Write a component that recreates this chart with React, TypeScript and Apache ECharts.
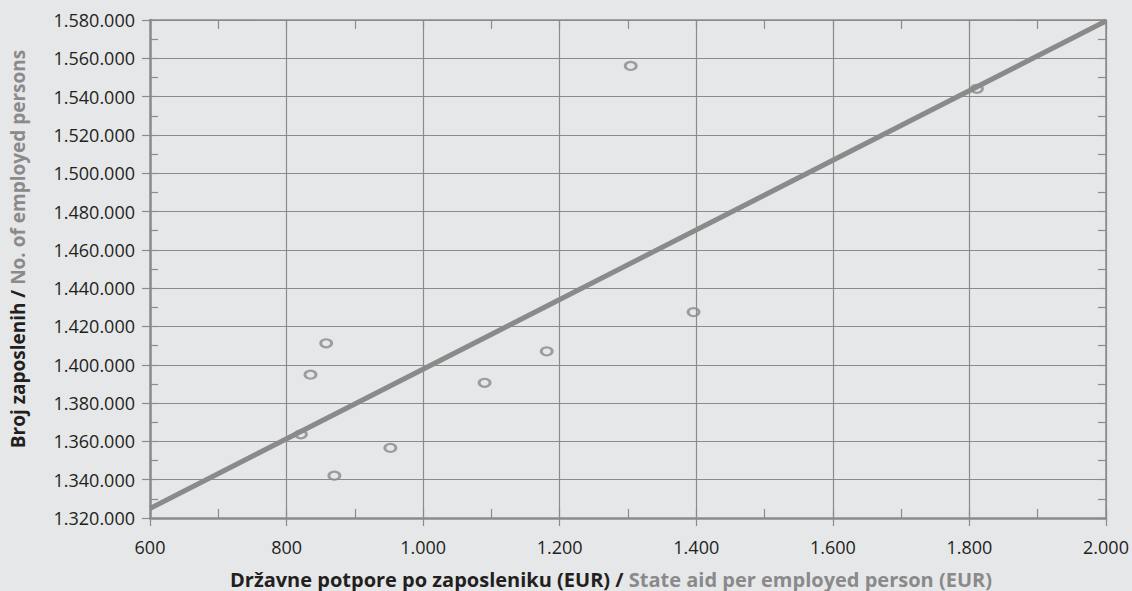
import React, { useEffect, useRef } from "react";
import * as echarts from "echarts";

const stateAid = [1304, 858, 835, 821, 952, 870, 1090, 1181, 1396, 1811];
const employed = [1556000, 1411200, 1394800, 1363700, 1356600, 1342100, 1390600, 1407000, 1427500, 1544100];
const trendX = [600, 2000];
const trendY = [1325000, 1579500];

const xMin = 600, xMax = 2000, xStep = 200;
const yMin = 1320000, yMax = 1580000, yStep = 20000;

const xTitleHr = "Državne potpore po zaposleniku (EUR) / ";
const xTitleEn = "State aid per employed person (EUR)";
const yTitleHr = "Broj zaposlenih / ";
const yTitleEn = "No. of employed persons";

const BG = "#e6e7e9";
const GRID = "#8b8b8b";
const DARK = "#231f20";
const LIGHT = "#8a8a8a";
const FONT = "'Open Sans', sans-serif";

function fmt(v: number): string {
  const s = Math.round(v).toString();
  return s.replace(/\B(?=(\d{3})+(?!\d))/g, ".");
}

export default function App() {
  const ref = useRef<HTMLDivElement>(null);
  useEffect(() => {
    if (!ref.current) return;
    const chart = echarts.init(ref.current, undefined, { renderer: "svg" });
    const hidden = { show: false };
    chart.setOption({
      animation: false,
      backgroundColor: BG,
      grid: { left: 150, top: 20, right: 26, bottom: 73, containLabel: false },
      xAxis: [
        {
          type: "value", position: "bottom", min: xMin, max: xMax, interval: xStep,
          axisLine: { show: true, onZero: false, lineStyle: { color: GRID, width: 2.5 } },
          axisTick: { show: true, inside: false, length: 8, lineStyle: { color: GRID, width: 1.2 } },
          axisLabel: { color: DARK, fontSize: 18, fontFamily: FONT, margin: 20, formatter: (v: number) => fmt(v) },
          splitLine: { show: true, lineStyle: { color: GRID, width: 1.2 } },
        },
        {
          type: "value", position: "bottom", min: xMin, max: xMax, interval: xStep / 2,
          axisLine: { show: false, onZero: false },
          axisTick: { show: true, inside: true, length: 9, lineStyle: { color: GRID, width: 1.2 } },
          axisLabel: hidden, splitLine: hidden,
        },
        {
          type: "value", position: "top", min: xMin, max: xMax, interval: xStep / 2,
          axisLine: { show: true, onZero: false, lineStyle: { color: GRID, width: 1.5 } },
          axisTick: { show: true, inside: true, length: 9, lineStyle: { color: GRID, width: 1.2 } },
          axisLabel: hidden, splitLine: hidden,
        },
      ],
      yAxis: [
        {
          type: "value", position: "left", min: yMin, max: yMax, interval: yStep,
          axisLine: { show: true, onZero: false, lineStyle: { color: GRID, width: 2.5 } },
          axisTick: { show: true, inside: false, length: 8, lineStyle: { color: GRID, width: 1.2 } },
          axisLabel: { color: DARK, fontSize: 18, fontFamily: FONT, margin: 15, formatter: (v: number) => fmt(v) },
          splitLine: { show: true, lineStyle: { color: GRID, width: 1.2 } },
        },
        {
          type: "value", position: "left", min: yMin, max: yMax, interval: yStep / 2,
          axisLine: { show: false, onZero: false },
          axisTick: { show: true, inside: true, length: 8, lineStyle: { color: GRID, width: 1.2 } },
          axisLabel: hidden, splitLine: hidden,
        },
        {
          type: "value", position: "right", min: yMin, max: yMax, interval: yStep / 2,
          axisLine: { show: true, onZero: false, lineStyle: { color: GRID, width: 1.5 } },
          axisTick: { show: true, inside: true, length: 8, lineStyle: { color: GRID, width: 1.2 } },
          axisLabel: hidden, splitLine: hidden,
        },
      ],
      graphic: [
        {
          type: "text", x: 611, y: 579,
          style: {
            text: "{a|" + xTitleHr + "}{b|" + xTitleEn + "}",
            align: "center", verticalAlign: "middle",
            rich: {
              a: { fill: DARK, fontSize: 20, fontWeight: "bold", fontFamily: FONT },
              b: { fill: LIGHT, fontSize: 20, fontWeight: "bold", fontFamily: FONT },
            },
          },
        },
        {
          type: "text", x: 18, y: 249, rotation: Math.PI / 2,
          style: {
            text: "{a|" + yTitleHr + "}{b|" + yTitleEn + "}",
            align: "center", verticalAlign: "middle",
            rich: {
              a: { fill: DARK, fontSize: 19, fontWeight: "bold", fontFamily: FONT },
              b: { fill: LIGHT, fontSize: 19, fontWeight: "bold", fontFamily: FONT },
            },
          },
        },
      ],
      series: [
        {
          type: "line", xAxisIndex: 0, yAxisIndex: 0,
          data: trendX.map((x, i) => [x, trendY[i]]),
          symbol: "none", lineStyle: { color: LIGHT, width: 5 }, z: 3,
        },
        {
          type: "scatter", xAxisIndex: 0, yAxisIndex: 0,
          data: stateAid.map((x, i) => [x, employed[i]]),
          symbol: "circle", symbolSize: [11, 8],
          itemStyle: { color: "rgba(0,0,0,0)", borderColor: LIGHT, borderWidth: 2.5 },
          z: 4,
        },
      ],
    });
    return () => chart.dispose();
  }, []);
  return <div ref={ref} style={{ position: "fixed", left: 0, top: 0, width: 1132, height: 591 }} />;
}
